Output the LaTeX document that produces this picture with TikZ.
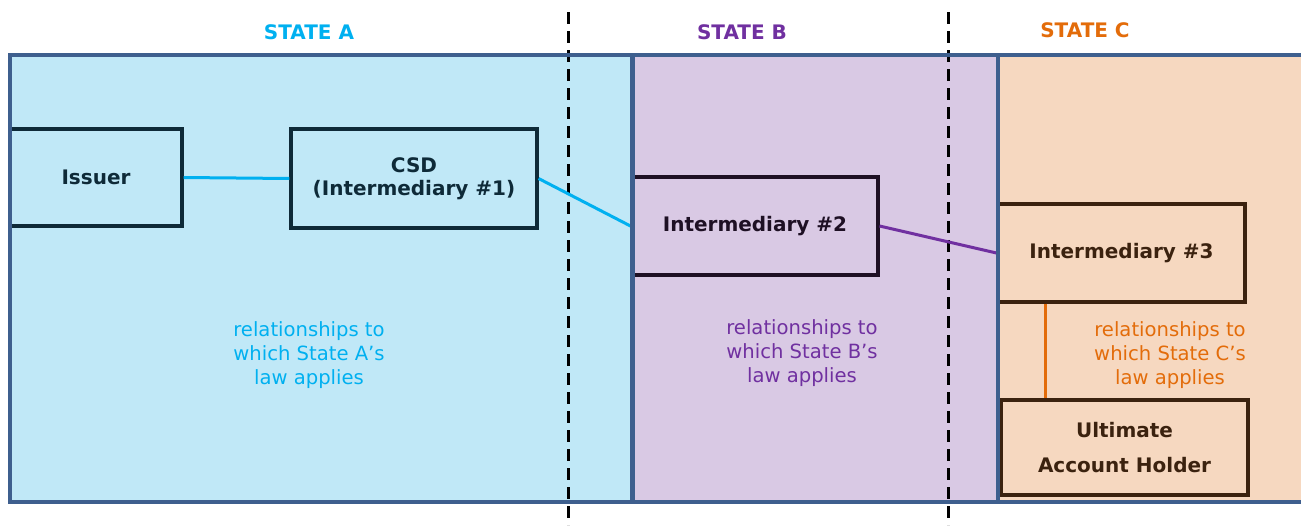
\documentclass[tikz,border=0pt]{standalone}
\usepackage{fontspec}
\setmainfont{DejaVu Sans}
\usetikzlibrary{calc}
\definecolor{fillA}{RGB}{192,232,247}
\definecolor{fillB}{RGB}{217,201,228}
\definecolor{fillC}{RGB}{246,216,192}
\definecolor{panelborder}{RGB}{62,95,142}
\definecolor{blueA}{RGB}{0,176,240}
\definecolor{purpleB}{RGB}{112,48,160}
\definecolor{orangeC}{RGB}{227,108,10}
\definecolor{darkA}{RGB}{14,42,56}
\definecolor{darkB}{RGB}{30,16,36}
\definecolor{darkC}{RGB}{59,34,15}
\tikzset{
  box/.style={draw, line width=3.1pt, inner sep=0pt, align=center,
    font=\fontsize{20}{23}\selectfont\bfseries},
  titlelbl/.style={font=\fontsize{20}{23}\selectfont\bfseries, inner sep=0pt},
  lawlbl/.style={font=\fontsize{19.6}{24}\selectfont, align=center, inner sep=0pt},
  conn/.style={line width=3pt},
  divider/.style={black, line width=3pt, dash pattern=on 12pt off 7pt},
  border/.style={panelborder, line width=4.5pt}
}
\begin{document}
\begin{tikzpicture}[x=1pt,y=-1pt]
\useasboundingbox (0,0) rectangle (1301,525);
% panels
\fill[fillA] (10,55) rectangle (632,502);
\fill[fillB] (632,55) rectangle (998,502);
\fill[fillC] (998,55) rectangle (1301,502);
% dashed dividers
\draw[divider] (568,12) -- (568,525);
\draw[divider] (948,12) -- (948,525);
% titles
\node[titlelbl, text=blueA] (tA) at (309,32) {STATE A};
\node[titlelbl, text=purpleB] (tB) at (742,32) {STATE B};
\node[titlelbl, text=orangeC] (tC) at (1085,30) {STATE C};
% boxes
\node[box, draw=darkA, text=darkA, minimum width=172pt, minimum height=97pt] (issuer) at (96,177.5) {Issuer};
\node[box, draw=darkA, text=darkA, minimum width=246pt, minimum height=99pt] (csd) at (414,178.5) {CSD\\(Intermediary \#1)};
\node[box, draw=darkB, text=darkB, minimum width=246pt, minimum height=98pt] (int2) at (755,226) {Intermediary \#2};
\node[box, draw=darkC, text=darkC, minimum width=247pt, minimum height=98pt] (int3) at (1121.5,253) {Intermediary \#3};
\node[box, draw=darkC, text=darkC, minimum width=247pt, minimum height=95pt,
  font=\fontsize{20}{35}\selectfont\bfseries] (uah) at (1124.5,447.5) {Ultimate\\Account Holder};
% connectors
\draw[conn, blueA] (issuer.east) -- (csd.west);
\draw[conn, blueA] (csd.east) -- (int2.west);
\draw[conn, purpleB] (int2.east) -- (int3.west);
\path (int3.south west) ++(49,0) coordinate (c3);
\draw[conn, orangeC] (c3) -- (c3 |- uah.north);
% panel borders (on top)
\draw[border] (1301,55) -- (10,55) -- (10,502) -- (1301,502);
\draw[panelborder, line width=5pt] (632,55) -- (632,502);
\draw[panelborder, line width=4pt] (998,55) -- (998,502);
% law labels
\node[lawlbl, text=blueA] (lA) at (309,355) {relationships to\\which State A’s\\law applies};
\node[lawlbl, text=purpleB] (lB) at (802,353) {relationships to\\which State B’s\\law applies};
\node[lawlbl, text=orangeC] (lC) at (1170,355) {relationships to\\which State C’s\\law applies};
\end{tikzpicture}
\end{document}
